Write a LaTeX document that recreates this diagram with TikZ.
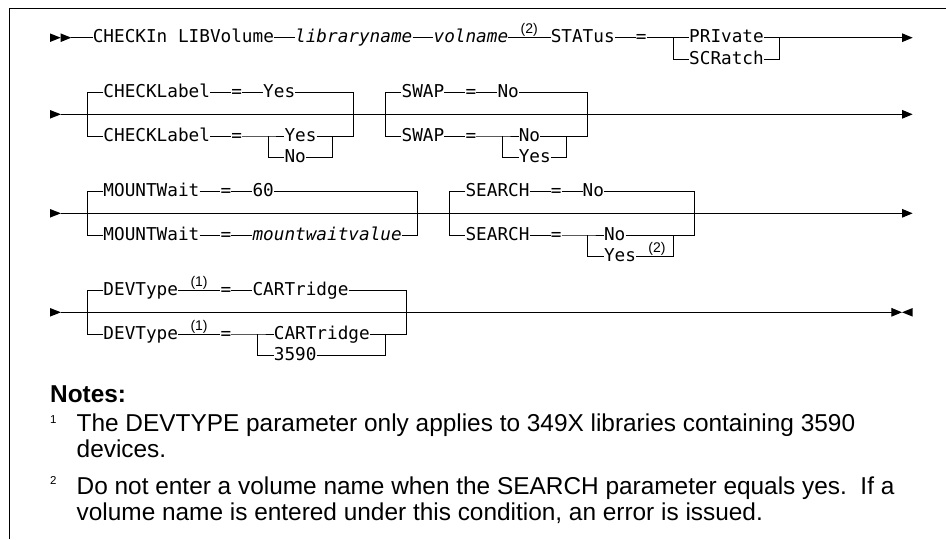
\documentclass[tikz,border=0pt]{standalone}
\usepackage{fontspec}
\usetikzlibrary{arrows.meta}
\newfontfamily\dmono[ItalicFont={DejaVu Sans Mono Oblique}]{DejaVu Sans Mono}
\newfontfamily\lsans{Liberation Sans}
\newcommand\kwfont{\dmono\fontsize{17.7}{20}\selectfont}
\newcommand\supfont{\lsans\fontsize{14}{15}\selectfont}
\newcommand\notefont{\lsans\fontsize{24.4}{28}\selectfont}
\newcommand\notenumfont{\lsans\fontsize{11.5}{12}\selectfont}
\def\xo{50}
\def\cw{10.65}
\def\ra{37.7}  \def\rab{59.4}
\def\rbt{92.6} \def\rb{114.3} \def\rbb{136} \def\rbs{157.7}
\def\rct{191.6} \def\rc{213.3} \def\rcb{235} \def\rcs{256.7}
\def\rdt{290.6} \def\rd{312.3} \def\rdb{334} \def\rds{355.7}
\begin{document}
\begin{tikzpicture}[x=1pt,y=-1pt,
  kw/.style={font=\kwfont, inner sep=0pt, text height=13pt, text depth=3pt, anchor=west},
  var/.style={kw, font=\kwfont\itshape},
  supn/.style={font=\supfont, inner sep=0pt, anchor=base},
  ln/.style={line width=1pt, line join=miter},
  endarrow/.style={ln, -{Triangle[length=10.65pt,width=8.6pt]}},
  tip/.style={fill=black},
  frame/.style={line width=1.3pt},
  note/.style={font=\notefont, inner sep=0pt, anchor=base west},
  notenum/.style={font=\notenumfont, inner sep=0pt, anchor=base west}
]
\useasboundingbox (0,0) rectangle (946,539);
\draw[frame] (9.5,539) -- (9.5,8.5) -- (946,8.5);

% ---------------- Row 1 ----------------
\fill[tip] (50,{\ra-4.3}) -- (60.65,\ra) -- (50,{\ra+4.3}) -- cycle;
\fill[tip] (60.65,{\ra-4.3}) -- (71.3,\ra) -- (60.65,{\ra+4.3}) -- cycle;
\coordinate (a0) at (71.3,\ra);
\node[kw] (a1) at ({\xo+\cw*4},\ra) {CHECKIn LIBVolume};
\node[var] (a2) at ({\xo+\cw*23},\ra) {libraryname};
\node[var] (a3) at ({\xo+\cw*36},\ra) {volname};
\node[supn] (a3n) at ({\xo+\cw*45},{\ra-4}) {(2)};
\node[kw] (a4) at ({\xo+\cw*47},\ra) {STATus};
\node[kw] (a5) at ({\xo+\cw*55},\ra) {=};
\coordinate (a6t) at ({\xo+\cw*58.5},\ra);
\coordinate (a6b) at ({\xo+\cw*58.5},\rab);
\node[kw] (a7) at ({\xo+\cw*60},\ra) {PRIvate};
\node[kw] (a8) at ({\xo+\cw*60},\rab) {SCRatch};
\coordinate (a9t) at ({\xo+\cw*68.5},\ra);
\coordinate (a9b) at ({\xo+\cw*68.5},\rab);
\coordinate (aE) at ({\xo+\cw*81},\ra);
\draw[ln] (a0) -- (a1) -- (a2) -- (a3) -- (a4) -- (a5) -- (a6t) -- (a7);
\draw[ln] (a7) -- (a9t);
\draw[ln] (a6t) -- (a6b) -- (a8);
\draw[ln] (a8) -- (a9b) -- (a9t);
\draw[endarrow] (a9t) -- (aE);

% ---------------- Row 2 ----------------
\fill[tip] (50,{\rb-4.3}) -- (61,\rb) -- (50,{\rb+4.3}) -- cycle;
\coordinate (b0) at (61,\rb);
\coordinate (bE) at ({\xo+\cw*81},\rb);
\draw[endarrow] (b0) -- (bE);
% group CHECKLabel
\coordinate (g1Lt) at ({\xo+\cw*3.5},\rbt);
\coordinate (g1Lb) at ({\xo+\cw*3.5},\rbb);
\coordinate (g1Rt) at ({\xo+\cw*28.5},\rbt);
\coordinate (g1Rb) at ({\xo+\cw*28.5},\rbb);
\node[kw] (b1) at ({\xo+\cw*5},\rbt) {CHECKLabel};
\node[kw] (b2) at ({\xo+\cw*17},\rbt) {=};
\node[kw] (b3) at ({\xo+\cw*20},\rbt) {Yes};
\node[kw] (b4) at ({\xo+\cw*5},\rbb) {CHECKLabel};
\node[kw] (b5) at ({\xo+\cw*17},\rbb) {=};
\coordinate (s1Lt) at ({\xo+\cw*20.5},\rbb);
\coordinate (s1Lb) at ({\xo+\cw*20.5},\rbs);
\node[kw] (b6) at ({\xo+\cw*22},\rbb) {Yes};
\coordinate (s1Rt) at ({\xo+\cw*26.5},\rbb);
\coordinate (s1Rb) at ({\xo+\cw*26.5},\rbs);
\node[kw] (b7) at ({\xo+\cw*22},\rbs) {No};
\draw[ln] (b1) -- (g1Lt) -- (g1Lb) -- (b4);
\draw[ln] (b1) -- (b2) -- (b3);
\draw[ln] (b3) -- (g1Rt) -- (g1Rb) -- (s1Rt);
\draw[ln] (b4) -- (b5) -- (s1Lt) -- (b6);
\draw[ln] (b6) -- (s1Rt);
\draw[ln] (s1Lt) -- (s1Lb) -- (b7);
\draw[ln] (b7) -- (s1Rb) -- (s1Rt);
% group SWAP
\coordinate (g2Lt) at ({\xo+\cw*31.5},\rbt);
\coordinate (g2Lb) at ({\xo+\cw*31.5},\rbb);
\coordinate (g2Rt) at ({\xo+\cw*50.5},\rbt);
\coordinate (g2Rb) at ({\xo+\cw*50.5},\rbb);
\node[kw] (c1) at ({\xo+\cw*33},\rbt) {SWAP};
\node[kw] (c2) at ({\xo+\cw*39},\rbt) {=};
\node[kw] (c3) at ({\xo+\cw*42},\rbt) {No};
\node[kw] (c4) at ({\xo+\cw*33},\rbb) {SWAP};
\node[kw] (c5) at ({\xo+\cw*39},\rbb) {=};
\coordinate (s2Lt) at ({\xo+\cw*42.5},\rbb);
\coordinate (s2Lb) at ({\xo+\cw*42.5},\rbs);
\node[kw] (c6) at ({\xo+\cw*44},\rbb) {No};
\coordinate (s2Rt) at ({\xo+\cw*48.5},\rbb);
\coordinate (s2Rb) at ({\xo+\cw*48.5},\rbs);
\node[kw] (c7) at ({\xo+\cw*44},\rbs) {Yes};
\draw[ln] (c1) -- (g2Lt) -- (g2Lb) -- (c4);
\draw[ln] (c1) -- (c2) -- (c3);
\draw[ln] (c3) -- (g2Rt) -- (g2Rb) -- (s2Rt);
\draw[ln] (c4) -- (c5) -- (s2Lt) -- (c6);
\draw[ln] (c6) -- (s2Rt);
\draw[ln] (s2Lt) -- (s2Lb) -- (c7);
\draw[ln] (c7) -- (s2Rb) -- (s2Rt);

% ---------------- Row 3 ----------------
\fill[tip] (50,{\rc-4.3}) -- (61,\rc) -- (50,{\rc+4.3}) -- cycle;
\coordinate (d0) at (61,\rc);
\coordinate (dE) at ({\xo+\cw*81},\rc);
\draw[endarrow] (d0) -- (dE);
% group MOUNTWait
\coordinate (g3Lt) at ({\xo+\cw*3.5},\rct);
\coordinate (g3Lb) at ({\xo+\cw*3.5},\rcb);
\coordinate (g3Rt) at ({\xo+\cw*34.5},\rct);
\coordinate (g3Rb) at ({\xo+\cw*34.5},\rcb);
\node[kw] (d1) at ({\xo+\cw*5},\rct) {MOUNTWait};
\node[kw] (d2) at ({\xo+\cw*16},\rct) {=};
\node[kw] (d3) at ({\xo+\cw*19},\rct) {60};
\node[kw] (d4) at ({\xo+\cw*5},\rcb) {MOUNTWait};
\node[kw] (d5) at ({\xo+\cw*16},\rcb) {=};
\node[var] (d6) at ({\xo+\cw*19},\rcb) {mountwaitvalue};
\draw[ln] (d1) -- (g3Lt) -- (g3Lb) -- (d4);
\draw[ln] (d1) -- (d2) -- (d3);
\draw[ln] (d3) -- (g3Rt) -- (g3Rb) -- (d6);
\draw[ln] (d4) -- (d5) -- (d6);
% group SEARCH
\coordinate (g4Lt) at ({\xo+\cw*37.5},\rct);
\coordinate (g4Lb) at ({\xo+\cw*37.5},\rcb);
\coordinate (g4Rt) at ({\xo+\cw*60.5},\rct);
\coordinate (g4Rb) at ({\xo+\cw*60.5},\rcb);
\node[kw] (e1) at ({\xo+\cw*39},\rct) {SEARCH};
\node[kw] (e2) at ({\xo+\cw*47},\rct) {=};
\node[kw] (e3) at ({\xo+\cw*50},\rct) {No};
\node[kw] (e4) at ({\xo+\cw*39},\rcb) {SEARCH};
\node[kw] (e5) at ({\xo+\cw*47},\rcb) {=};
\coordinate (s4Lt) at ({\xo+\cw*50.5},\rcb);
\coordinate (s4Lb) at ({\xo+\cw*50.5},\rcs);
\node[kw] (e6) at ({\xo+\cw*52},\rcb) {No};
\coordinate (s4Rt) at ({\xo+\cw*58.5},\rcb);
\coordinate (s4Rb) at ({\xo+\cw*58.5},\rcs);
\node[kw] (e7) at ({\xo+\cw*52},\rcs) {Yes};
\node[supn] (e7n) at ({\xo+\cw*57},{\rcs-4}) {(2)};
\draw[ln] (e1) -- (g4Lt) -- (g4Lb) -- (e4);
\draw[ln] (e1) -- (e2) -- (e3);
\draw[ln] (e3) -- (g4Rt) -- (g4Rb) -- (s4Rt);
\draw[ln] (e4) -- (e5) -- (s4Lt) -- (e6);
\draw[ln] (e6) -- (s4Rt);
\draw[ln] (s4Lt) -- (s4Lb) -- (e7);
\draw[ln] (e7) -- (s4Rb) -- (s4Rt);

% ---------------- Row 4 ----------------
\fill[tip] (50,{\rd-4.3}) -- (61,\rd) -- (50,{\rd+4.3}) -- cycle;
\coordinate (f0) at (61,\rd);
\coordinate (fE) at ({\xo+\cw*80},\rd);
\draw[endarrow] (f0) -- (fE);
\fill[tip] ({\xo+\cw*81},{\rd-4.3}) -- (fE) -- ({\xo+\cw*81},{\rd+4.3}) -- cycle;
% group DEVType
\coordinate (g5Lt) at ({\xo+\cw*3.5},\rdt);
\coordinate (g5Lb) at ({\xo+\cw*3.5},\rdb);
\coordinate (g5Rt) at ({\xo+\cw*33.5},\rdt);
\coordinate (g5Rb) at ({\xo+\cw*33.5},\rdb);
\node[kw] (f1) at ({\xo+\cw*5},\rdt) {DEVType};
\node[supn] (f1n) at ({\xo+\cw*14},{\rdt-4}) {(1)};
\node[kw] (f2) at ({\xo+\cw*16},\rdt) {=};
\node[kw] (f3) at ({\xo+\cw*19},\rdt) {CARTridge};
\node[kw] (f4) at ({\xo+\cw*5},\rdb) {DEVType};
\node[supn] (f4n) at ({\xo+\cw*14},{\rdb-4}) {(1)};
\node[kw] (f5) at ({\xo+\cw*16},\rdb) {=};
\coordinate (s5Lt) at ({\xo+\cw*19.5},\rdb);
\coordinate (s5Lb) at ({\xo+\cw*19.5},\rds);
\node[kw] (f6) at ({\xo+\cw*21},\rdb) {CARTridge};
\coordinate (s5Rt) at ({\xo+\cw*31.5},\rdb);
\coordinate (s5Rb) at ({\xo+\cw*31.5},\rds);
\node[kw] (f7) at ({\xo+\cw*21},\rds) {3590};
\draw[ln] (f1) -- (g5Lt) -- (g5Lb) -- (f4);
\draw[ln] (f1) -- (f2) -- (f3);
\draw[ln] (f3) -- (g5Rt) -- (g5Rb) -- (s5Rt);
\draw[ln] (f4) -- (f5) -- (s5Lt) -- (f6);
\draw[ln] (f6) -- (s5Rt);
\draw[ln] (s5Lt) -- (s5Lb) -- (f7);
\draw[ln] (f7) -- (s5Rb) -- (s5Rt);

% ---------------- Notes ----------------
\node[note, font=\notefont\bfseries] (nt) at (50,402) {Notes:};
\node[notenum] (n1n) at (50,423.5) {1};
\node[note] (n1a) at (76.5,431) {The DEVTYPE parameter only applies to 349X libraries containing 3590};
\node[note] (n1b) at (76.5,457) {devices.};
\node[notenum] (n2n) at (50,484) {2};
\node[note] (n2a) at (76.5,494) {Do not enter a volume name when the SEARCH parameter equals yes.\ \ If a};
\node[note] (n2b) at (76.5,520) {volume name is entered under this condition, an error is issued.};
\end{tikzpicture}
\end{document}
